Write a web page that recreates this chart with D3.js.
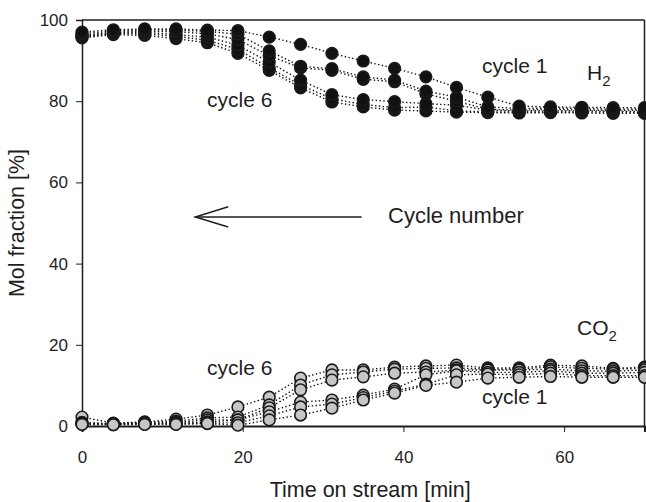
<!DOCTYPE html>
<html>
<head>
<meta charset="utf-8">
<script src="https://cdn.jsdelivr.net/npm/d3@7/dist/d3.min.js"></script>
<style>
  html, body { margin: 0; padding: 0; background: #fff; }
  svg { display: block; font-family: "Liberation Sans", Arial, sans-serif; }
</style>
</head>
<body>
<svg id="chart" width="646" height="502"></svg>
<script>
// Time on stream [min]
const times = [0, 3.9, 7.8, 11.7, 15.6, 19.4, 23.3, 27.2, 31.1, 35.0, 38.9, 42.8, 46.6, 50.5, 54.4, 58.3, 62.2, 66.1, 70.0];

// H2 mol fraction [%] per cycle
const h2Cycle1 = [97.0, 97.6, 97.8, 97.8, 97.5, 97.4, 95.8, 94.0, 91.8, 89.9, 88.1, 86.0, 83.4, 81.0, 78.8, 78.6, 78.5, 78.4, 78.4];
const h2Cycle2 = [96.6, 97.3, 97.6, 97.5, 97.2, 96.5, 92.4, 88.6, 88.0, 86.0, 85.2, 82.5, 81.0, 78.6, 78.2, 78.3, 78.2, 78.0, 78.1];
const h2Cycle3 = [96.2, 97.0, 97.3, 97.1, 96.6, 95.2, 91.2, 88.2, 87.6, 85.4, 84.8, 81.8, 80.0, 78.0, 77.8, 78.0, 77.8, 77.7, 77.8];
const h2Cycle4 = [96.0, 96.8, 97.0, 96.4, 95.8, 93.8, 89.6, 85.2, 81.6, 80.4, 79.9, 79.4, 79.0, 77.8, 77.6, 77.7, 77.6, 77.5, 77.5];
const h2Cycle5 = [95.8, 96.6, 96.6, 96.0, 95.0, 92.8, 88.2, 84.0, 80.6, 79.2, 78.4, 78.6, 77.6, 77.4, 77.3, 77.4, 77.3, 77.3, 77.2];
const h2Cycle6 = [95.6, 96.4, 96.2, 95.4, 94.4, 91.8, 87.6, 83.3, 79.8, 78.6, 77.8, 77.6, 77.3, 77.2, 77.1, 77.2, 77.1, 77.0, 77.0];

// CO2 mol fraction [%] per cycle
const co2Cycle1 = [0.4, 0.3, 0.4, 0.4, 0.6, 0.2, 1.5, 2.7, 4.4, 6.4, 8.1, 10.0, 10.8, 11.8, 12.0, 12.2, 12.0, 12.0, 12.0];
const co2Cycle2 = [0.5, 0.4, 0.5, 0.5, 0.7, 0.8, 2.5, 4.7, 5.4, 7.0, 8.6, 10.3, 12.6, 12.8, 12.6, 13.0, 12.4, 12.4, 12.4];
const co2Cycle3 = [0.6, 0.5, 0.6, 0.7, 1.0, 1.5, 3.5, 5.9, 6.4, 7.6, 9.1, 12.6, 13.6, 13.2, 13.2, 13.6, 13.0, 13.0, 13.2];
const co2Cycle4 = [0.7, 0.5, 0.7, 0.9, 1.5, 1.5, 4.5, 8.9, 11.3, 12.1, 13.0, 13.3, 13.8, 13.8, 13.8, 14.0, 13.6, 13.5, 13.8];
const co2Cycle5 = [0.9, 0.6, 0.9, 1.2, 2.0, 2.2, 5.2, 10.1, 12.6, 13.3, 14.0, 14.2, 14.3, 14.0, 14.0, 14.6, 14.2, 14.0, 14.2];
const co2Cycle6 = [2.2, 0.7, 1.0, 1.7, 2.7, 4.7, 7.1, 11.8, 13.8, 13.8, 14.5, 14.8, 15.0, 14.3, 14.3, 15.0, 14.8, 14.2, 14.5];

const xTicks = [0, 20, 40, 60];
const yTicks = [0, 20, 40, 60, 80, 100];

const h2Series = [h2Cycle6, h2Cycle5, h2Cycle4, h2Cycle3, h2Cycle2, h2Cycle1];
const co2Series = [co2Cycle6, co2Cycle5, co2Cycle4, co2Cycle3, co2Cycle2, co2Cycle1];

const svg = d3.select("#chart");
const plotLeft = 82, plotRight = 644.5, plotTop = 20, plotBottom = 426;

const x = d3.scaleLinear().domain([0, 70]).range([plotLeft, plotRight]);
const y = d3.scaleLinear().domain([0, 100]).range([plotBottom, plotTop]);

const ink = "#1e1e1e";

// Frame: top and right borders
svg.append("line").attr("x1", plotLeft).attr("x2", plotRight).attr("y1", plotTop).attr("y2", plotTop)
  .attr("stroke", ink).attr("stroke-width", 1.5);
svg.append("line").attr("x1", plotRight).attr("x2", plotRight).attr("y1", plotTop).attr("y2", plotBottom)
  .attr("stroke", ink).attr("stroke-width", 1.5);

// Axes
const xAxis = svg.append("g").attr("transform", `translate(0,${plotBottom})`)
  .call(d3.axisBottom(x).tickValues(xTicks).tickSize(6).tickPadding(19).tickFormat(d3.format("d")));
const yAxis = svg.append("g").attr("transform", `translate(${plotLeft},0)`)
  .call(d3.axisLeft(y).tickValues(yTicks).tickSize(6).tickPadding(8).tickFormat(d3.format("d")));

[xAxis, yAxis].forEach(g => {
  g.select(".domain").attr("stroke", ink).attr("stroke-width", 1.5);
  g.selectAll(".tick line").attr("stroke", ink).attr("stroke-width", 1);
  g.selectAll(".tick text").attr("fill", ink).style("font-size", "17px")
    .style("font-family", "'Liberation Sans', Arial, sans-serif");
});
xAxis.select(".domain").attr("stroke-width", 2.2);
xAxis.selectAll(".tick").filter(d => d === 0).select("line").remove();

// Axis titles
svg.append("text").attr("x", (plotLeft + plotRight) / 2 + 7).attr("y", 497)
  .attr("text-anchor", "middle").attr("fill", ink).style("font-size", "21.5px")
  .text("Time on stream [min]");
svg.append("text").attr("transform", `translate(24,${(plotTop + plotBottom) / 2}) rotate(-90)`)
  .attr("text-anchor", "middle").attr("fill", ink).style("font-size", "21.5px")
  .text("Mol fraction [%]");

const line = d3.line().x((d, i) => x(times[i])).y(d => y(d));

function drawSeries(series, fill) {
  series.forEach(vals => {
    svg.append("path").datum(vals).attr("d", line)
      .attr("fill", "none").attr("stroke", "#111").attr("stroke-width", 1.4)
      .attr("stroke-dasharray", "1.4,2.4");
  });
  series.forEach(vals => {
    svg.append("g").selectAll("circle").data(vals).join("circle")
      .attr("cx", (d, i) => x(times[i])).attr("cy", d => y(d)).attr("r", 5.8)
      .attr("fill", fill).attr("stroke", "#1a1a1a").attr("stroke-width", 1.6);
  });
}

drawSeries(h2Series, "#111");
drawSeries(co2Series, "#c6c6c6");

// Annotations
const labelStyle = sel => sel.attr("fill", ink).style("font-size", "21px");
svg.append("text").attr("x", 482).attr("y", 73).call(labelStyle).text("cycle 1");
svg.append("text").attr("x", 207).attr("y", 107).call(labelStyle).text("cycle 6");
svg.append("text").attr("x", 207).attr("y", 375).call(labelStyle).text("cycle 6");
svg.append("text").attr("x", 482).attr("y", 404).call(labelStyle).text("cycle 1");

const h2 = svg.append("text").attr("x", 587).attr("y", 80).call(labelStyle);
h2.append("tspan").text("H");
h2.append("tspan").attr("dy", 6).style("font-size", "15px").text("2");

const co2 = svg.append("text").attr("x", 577).attr("y", 335).call(labelStyle);
co2.append("tspan").text("CO");
co2.append("tspan").attr("dy", 6).style("font-size", "15px").text("2");

svg.append("text").attr("x", 388).attr("y", 223).call(labelStyle)
  .style("font-size", "22px").text("Cycle number");

// Arrow pointing towards increasing cycle number
svg.append("line").attr("x1", x(14.1)).attr("x2", x(34.8)).attr("y1", y(51.5)).attr("y2", y(51.5))
  .attr("stroke", ink).attr("stroke-width", 1.5);
svg.append("path")
  .attr("d", `M${x(18.2)},${y(54)} L${x(14.1)},${y(51.5)} L${x(18.2)},${y(49)}`)
  .attr("fill", "none").attr("stroke", ink).attr("stroke-width", 1.5);
</script>
</body>
</html>
